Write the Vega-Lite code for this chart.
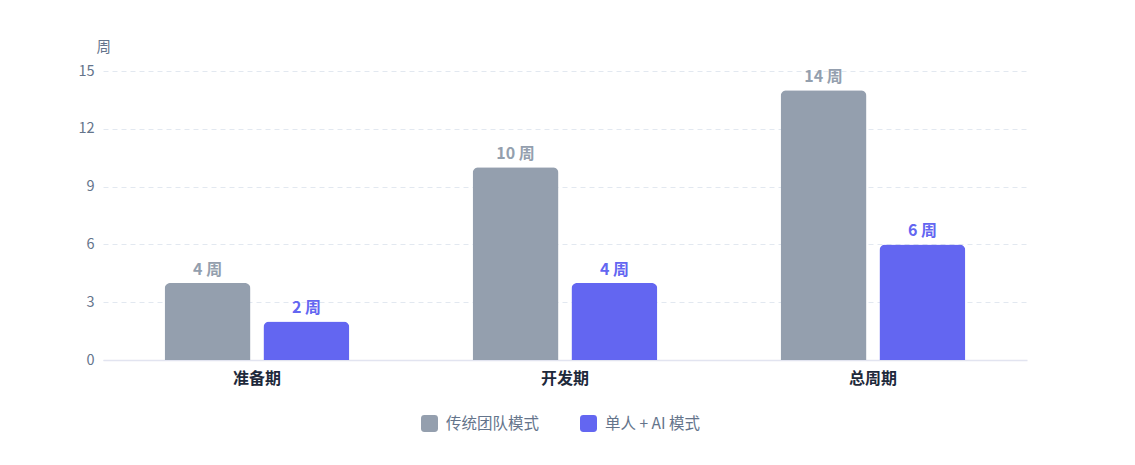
{
  "$schema": "https://vega.github.io/schema/vega-lite/v6.json",
  "autosize": {"type": "none"},
  "width": 924,
  "height": 289,
  "padding": {"left": 103, "top": 71, "right": 108, "bottom": 105},
  "background": "#ffffff",
  "view": {"stroke": null},
  "config": {
    "font": "Noto Sans CJK SC",
    "axis": {"labelFont": "Noto Sans CJK SC", "titleFont": "Noto Sans CJK SC"},
    "legend": {"labelFont": "Noto Sans CJK SC"}
  },
  "data": {
    "values": [
      {"stage": "准备期", "mode": "传统团队模式", "value": 4},
      {"stage": "准备期", "mode": "单人 + AI 模式", "value": 2},
      {"stage": "开发期", "mode": "传统团队模式", "value": 10},
      {"stage": "开发期", "mode": "单人 + AI 模式", "value": 4},
      {"stage": "总周期", "mode": "传统团队模式", "value": 14},
      {"stage": "总周期", "mode": "单人 + AI 模式", "value": 6}
    ]
  },
  "transform": [
    {"calculate": "datum.value + ' 周'", "as": "label"}
  ],
  "encoding": {
    "x": {
      "field": "stage",
      "type": "nominal",
      "sort": ["准备期", "开发期", "总周期"],
      "scale": {"paddingInner": 0.4, "paddingOuter": 0.2},
      "axis": {
        "title": null,
        "labelAngle": 0,
        "labelFontSize": 16,
        "labelFontWeight": "bold",
        "labelColor": "#1e293b",
        "labelPadding": 10,
        "ticks": false,
        "domainColor": "#e2e4f0",
        "domainWidth": 1.5
      }
    },
    "xOffset": {
      "field": "mode",
      "type": "nominal",
      "sort": ["传统团队模式", "单人 + AI 模式"],
      "scale": {"paddingInner": 0.13, "paddingOuter": 0}
    },
    "y": {
      "field": "value",
      "type": "quantitative",
      "scale": {"domain": [0, 15]},
      "axis": {
        "title": "周",
        "titleAngle": 0,
        "titleAlign": "left",
        "titleBaseline": "bottom",
        "titleX": -7,
        "titleY": -17,
        "titleFontSize": 14.5,
        "titleFontWeight": "normal",
        "titleColor": "#64748b",
        "values": [0, 3, 6, 9, 12, 15],
        "labelFontSize": 14.5,
        "labelColor": "#64748b",
        "labelPadding": 9,
        "ticks": false,
        "domain": false,
        "gridColor": "#e2e8f0",
        "gridDash": [5, 4],
        "gridWidth": 1
      }
    },
    "color": {
      "field": "mode",
      "type": "nominal",
      "sort": ["传统团队模式", "单人 + AI 模式"],
      "scale": {"domain": ["传统团队模式", "单人 + AI 模式"], "range": ["#949fae", "#6366f1"]},
      "legend": {
        "title": null,
        "orient": "none",
        "direction": "horizontal",
        "legendX": 318,
        "legendY": 344,
        "symbolType": "M -0.6 -1 L 0.6 -1 Q 1 -1 1 -0.6 L 1 0.6 Q 1 1 0.6 1 L -0.6 1 Q -1 1 -1 0.6 L -1 -0.6 Q -1 -1 -0.6 -1 Z",
        "symbolSize": 289,
        "symbolStrokeWidth": 0,
        "symbolOpacity": 1,
        "labelFontSize": 15.5,
        "labelColor": "#64748b",
        "labelOffset": 8,
        "columnPadding": 40
      }
    }
  },
  "layer": [
    {
      "mark": {"type": "bar", "cornerRadiusTopLeft": 6, "cornerRadiusTopRight": 6}
    },
    {
      "mark": {"type": "text", "baseline": "bottom", "dy": -5, "fontSize": 16, "fontWeight": "bold"},
      "encoding": {
        "text": {"field": "label"}
      }
    }
  ]
}
